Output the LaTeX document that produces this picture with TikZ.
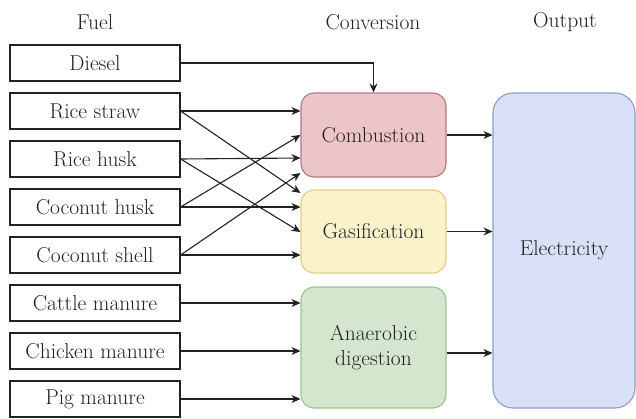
\documentclass[tikz,border=0pt]{standalone}
\usetikzlibrary{arrows.meta}
\definecolor{combfill}{HTML}{EBC5C7}
\definecolor{combline}{HTML}{B07B7F}
\definecolor{gasfill}{HTML}{FAF2C8}
\definecolor{gasline}{HTML}{DDCE88}
\definecolor{anafill}{HTML}{D4E6CD}
\definecolor{analine}{HTML}{9FC392}
\definecolor{elecfill}{HTML}{D8E1F7}
\definecolor{elecline}{HTML}{8D9CC0}
\definecolor{ink}{HTML}{222222}

\begin{document}
\begin{tikzpicture}[x=1pt,y=-1pt,
  fuel/.style={draw=ink,line width=1.2pt,minimum width=170pt,minimum height=36pt,inner sep=0pt},
  conv/.style={draw,line width=1.1pt,rounded corners=13pt,minimum width=145pt,inner sep=0pt,align=center},
  arr/.style={draw=ink,line width=1.1pt,-{Stealth[length=9pt,width=8pt]}},
  font=\fontsize{21.5}{25}\selectfont,text=ink]
\useasboundingbox (0,0) rectangle (636,418);
% headings
\node (hfuel) at (95,22) {Fuel};
\node (hconv) at (373,22) {Conversion};
\node (hout) at (565,22) {Output};
% fuels
\node[fuel] (dsl) at (95,63) {Diesel};
\node[fuel] (rs) at (95,111) {Rice straw};
\node[fuel] (rh) at (95,159) {Rice husk};
\node[fuel] (ch) at (95,207) {Coconut husk};
\node[fuel] (cs) at (95,255) {Coconut shell};
\node[fuel] (cm) at (95,303) {Cattle manure};
\node[fuel] (km) at (95,351) {Chicken manure};
\node[fuel] (pm) at (95,399) {Pig manure};
% conversion
\node[conv,fill=combfill,draw=combline,minimum height=84pt] (comb) at (373.5,135) {Combustion};
\node[conv,fill=gasfill,draw=gasline,minimum height=83pt] (gas) at (373.5,231.5) {Gasification};
\node[conv,fill=anafill,draw=analine,minimum height=121pt] (ana) at (373.5,347.5) {Anaerobic\\digestion};
% output
\node[draw=elecline,fill=elecfill,line width=1.1pt,rounded corners=20pt,minimum width=142pt,minimum height=315pt,inner sep=0pt] (elec) at (564,250.5) {Electricity};
% fuel to conversion
\draw[arr] (dsl.east) -| (comb.north);
\draw[arr] (rs.east) -- (comb.west |- 0,111);
\draw[arr] (rs.east) -- (gas.west |- 0,193);
\draw[arr] (rh.east) -- (comb.west |- 0,158);
\draw[arr] (rh.east) -- (gas.west |- 0,232);
\draw[arr] (ch.east) -- (comb.west |- 0,135);
\draw[arr] (ch.east) -- (gas.west |- 0,207);
\draw[arr] (cs.east) -- (comb.west |- 0,173);
\draw[arr] (cs.east) -- (gas.west |- 0,255);
\draw[arr] (cm.east) -- (ana.west |- cm.east);
\draw[arr] (km.east) -- (ana.west |- km.east);
\draw[arr] (pm.east) -- (ana.west |- pm.east);
% conversion to output
\draw[arr] (comb.east) -- (elec.west |- comb.east);
\draw[arr] (gas.east) -- (elec.west |- gas.east);
\draw[arr] (ana.east |- 0,353) -- (elec.west |- 0,353);
\end{tikzpicture}
\end{document}
